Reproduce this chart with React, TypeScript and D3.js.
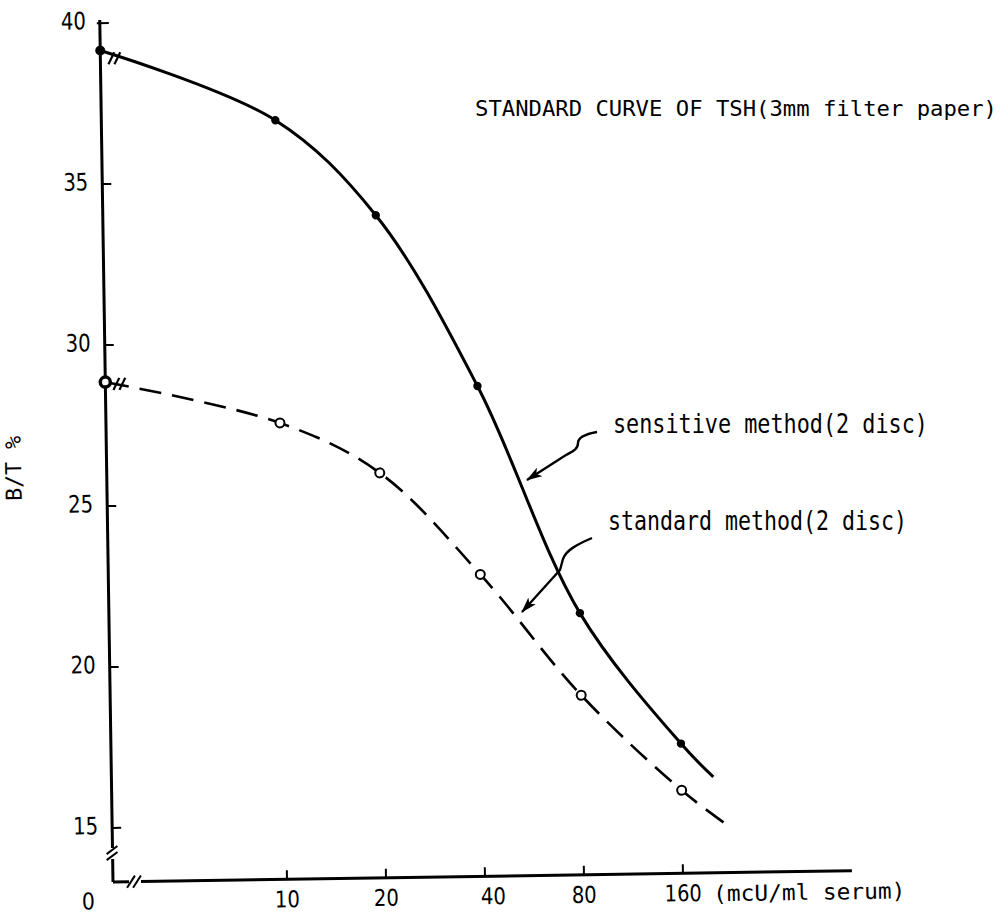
import React from "react";
import * as d3 from "d3";

// ---- data ----
const doses = [0, 10, 20, 40, 80, 160];
const sensitiveValues = [39.15, 36.9, 33.9, 28.55, 21.45, 17.35];
const standardValues = [28.85, 27.5, 25.9, 22.7, 18.9, 15.9];
// hand-drawn extension of each curve beyond the last standard
const sensitiveTail = [200, 16.3];
const standardTail = [216, 14.85];
const yTickValues = [15, 20, 25, 30, 35, 40];
const xTickValues = [10, 20, 40, 80, 160];

const W = 1008;
const H = 916;
const FONT = "'DejaVu Sans Mono', monospace";

export default function App() {
  const axisX = 113;
  const axisY = 882;
  const y = d3.scaleLinear().domain([15, 40]).range([828, 23]);
  const xLog = d3.scaleLog().base(2).domain([10, 160]).range([287, 683]);
  const x = (d: number) => (d === 0 ? axisX : xLog(d));

  const line = d3
    .line<[number, number]>()
    .x((p) => x(p[0]))
    .y((p) => y(p[1]))
    .curve(d3.curveCatmullRom.alpha(0.5));

  const sensPts: [number, number][] = doses.map((d, i) => [d, sensitiveValues[i]]);
  const stdPts: [number, number][] = doses.map((d, i) => [d, standardValues[i]]);
  const sensPath = line([...sensPts, sensitiveTail as [number, number]]) || "";
  const stdPath = line([...stdPts, standardTail as [number, number]]) || "";

  // break marks on curves near the y axis
  const breakX = 126;
  const breakMarks = (cy: number) => (
    <g stroke="#000" strokeWidth={2.2}>
      <line x1={breakX - 5} y1={cy + 6} x2={breakX + 1} y2={cy - 6} />
      <line x1={breakX + 1} y1={cy + 6} x2={breakX + 7} y2={cy - 6} />
    </g>
  );
  const sensBreakY = y(39.15) + 8;
  const stdBreakY = y(28.85) + 2;

  return (
    <svg
      width={W}
      height={H}
      style={{ position: "absolute", left: 0, top: 0, background: "#fff" }}
      fontFamily={FONT}
    >
      <defs>
        <marker
          id="arrow"
          viewBox="0 0 16 10"
          refX="15"
          refY="5"
          markerWidth="16"
          markerHeight="10"
          markerUnits="userSpaceOnUse"
          orient="auto"
        >
          <path d="M0,0 L16,5 L0,10 L4,5 z" fill="#000" />
        </marker>
      </defs>
      <rect width={W} height={H} fill="#fff" />

      <g transform={`rotate(-0.88, ${axisX}, ${axisY})`}>
        {/* y axis with break */}
        <g stroke="#000" strokeWidth={3} fill="none">
          <line x1={axisX} y1={20} x2={axisX} y2={848} />
          <line x1={axisX} y1={859} x2={axisX} y2={axisY} />
          <line x1={axisX - 6} y1={854} x2={axisX + 5} y2={846} strokeWidth={2} />
          <line x1={axisX - 6} y1={860} x2={axisX + 5} y2={852} strokeWidth={2} />
          {/* x axis with break */}
          <line x1={axisX} y1={axisY} x2={129} y2={axisY} />
          <line x1={141} y1={axisY} x2={852} y2={axisY} />
          <line x1={127} y1={888} x2={135} y2={876} strokeWidth={2} />
          <line x1={133} y1={888} x2={141} y2={876} strokeWidth={2} />
        </g>
        {/* y ticks */}
        {yTickValues.map((v) => (
          <g key={"yt" + v}>
            <line
              x1={v === 40 ? axisX - 3 : axisX}
              x2={axisX + 9}
              y1={y(v)}
              y2={y(v)}
              stroke="#000"
              strokeWidth={2}
            />
            <text
              x={axisX - 14}
              y={y(v) - 2}
              textAnchor="end"
              dominantBaseline="central"
              fontSize={24}
              fontFamily="'DejaVu Sans', sans-serif"
              textLength={25}
              lengthAdjust="spacingAndGlyphs"
            >
              {v}
            </text>
          </g>
        ))}
        {/* x ticks */}
        {xTickValues.map((v) => (
          <g key={"xt" + v}>
            <line x1={xLog(v)} x2={xLog(v)} y1={axisY} y2={axisY - 9} stroke="#000" strokeWidth={2} />
            <text
              x={xLog(v) + (v === 40 ? 8 : 0)}
              y={axisY + 20}
              textAnchor="middle"
              dominantBaseline="central"
              fontSize={23}
              fontFamily="'DejaVu Sans', sans-serif"
              textLength={v >= 100 ? 37 : 25}
              lengthAdjust="spacingAndGlyphs"
            >
              {v}
            </text>
          </g>
        ))}
        <text
          x={88}
          y={axisY + 19}
          textAnchor="middle"
          dominantBaseline="central"
          fontSize={23}
          fontFamily="'DejaVu Sans', sans-serif"
          textLength={13}
          lengthAdjust="spacingAndGlyphs"
        >
          0
        </text>
        <text
          x={713}
          y={axisY + 21}
          dominantBaseline="central"
          fontSize={22}
          textLength={192}
          lengthAdjust="spacingAndGlyphs"
        >
          (mcU/ml serum)
        </text>
        <text
          transform={`translate(20, 467) rotate(-90)`}
          textAnchor="middle"
          dominantBaseline="central"
          fontSize={22}
          textLength={65}
          lengthAdjust="spacingAndGlyphs"
        >
          B/T %
        </text>

        {/* curves */}
        <path d={sensPath} fill="none" stroke="#000" strokeWidth={3} />
        <path d={stdPath} fill="none" stroke="#000" strokeWidth={2.6} strokeDasharray="22 11" strokeDashoffset={-2} />
        {breakMarks(sensBreakY)}
        {breakMarks(stdBreakY)}

        {/* markers */}
        {sensPts.map((p, i) => (
          <circle key={"s" + i} cx={x(p[0])} cy={y(p[1])} r={i === 0 ? 5 : 4.2} fill="#000" />
        ))}
        {stdPts.map((p, i) => (
          <circle
            key={"o" + i}
            cx={x(p[0])}
            cy={y(p[1])}
            r={i === 0 ? 5 : 4.5}
            fill="#fff"
            stroke="#000"
            strokeWidth={i === 0 ? 3.5 : 2}
          />
        ))}
      </g>

      {/* title and annotations */}
      <text x={475} y={109} dominantBaseline="central" fontSize={21} textLength={522} lengthAdjust="spacingAndGlyphs">
        STANDARD CURVE OF TSH(3mm filter paper)
      </text>
      <text x={613} y={433} fontSize={27} textLength={315} lengthAdjust="spacingAndGlyphs">
        sensitive method(2 disc)
      </text>
      <text x={608} y={530} fontSize={27} textLength={299} lengthAdjust="spacingAndGlyphs">
        standard method(2 disc)
      </text>
      <path
        d="M597,432 C586,434 578,437 578,443 C578,450 571,452 566,455 L527,480"
        fill="none"
        stroke="#000"
        strokeWidth={2.4}
        markerEnd="url(#arrow)"
      />
      <path
        d="M592,538 C578,544 566,550 563,559 L560,570 L522,612"
        fill="none"
        stroke="#000"
        strokeWidth={2.4}
        markerEnd="url(#arrow)"
      />
    </svg>
  );
}
